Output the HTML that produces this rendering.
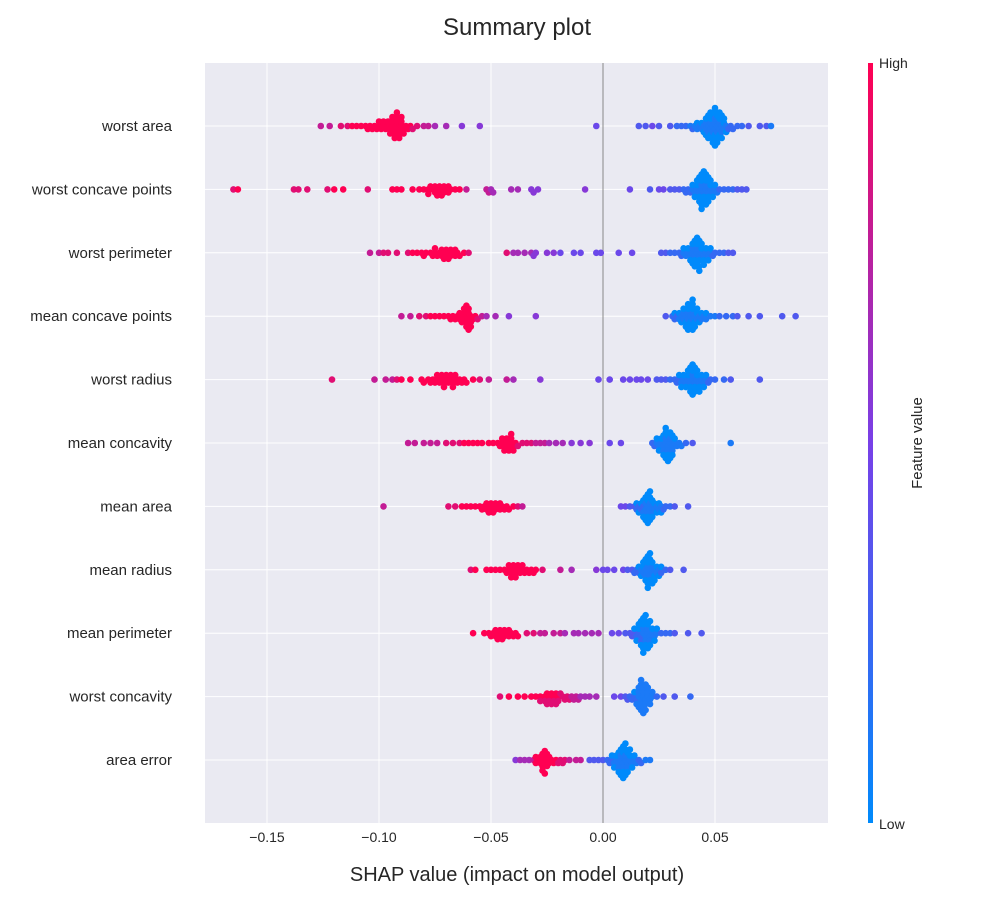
<!DOCTYPE html>
<html><head><meta charset="utf-8"><style>
html,body{margin:0;padding:0;background:#fff;}
svg text{font-family:"Liberation Sans",sans-serif;}
</style></head><body>
<svg id="chart" width="1000" height="900" viewBox="0 0 1000 900" xmlns="http://www.w3.org/2000/svg">
<text x="517" y="35" font-size="24" text-anchor="middle" fill="#262626">Summary plot</text>
<rect x="205" y="63" width="623" height="760" fill="#eaeaf2"/>
<g id="grid"></g>
<g id="ticks"></g>
<g id="ylabels"></g>
<g id="dots"></g>
<text x="517" y="881" font-size="20" text-anchor="middle" fill="#262626">SHAP value (impact on model output)</text>
<defs><linearGradient id="cb" x1="0" y1="1" x2="0" y2="0">
<stop offset="0" stop-color="#008afb"/><stop offset="0.5" stop-color="#7840e8"/><stop offset="1" stop-color="#ff0052"/></linearGradient></defs>
<rect x="868" y="63" width="5" height="760" fill="url(#cb)"/>
<text x="879" y="68" font-size="14" fill="#262626">High</text>
<text x="879" y="829" font-size="14" fill="#262626">Low</text>
<text transform="translate(922,443) rotate(-90)" font-size="15" text-anchor="middle" fill="#262626">Feature value</text>
</svg>
<script>
const features = ["worst area","worst concave points","worst perimeter","mean concave points","worst radius","mean concavity","mean area","mean radius","mean perimeter","worst concavity","area error"];
const xTicks = [-0.15,-0.10,-0.05,0.00,0.05];
const xTickLabels = ["\u22120.15","\u22120.10","\u22120.05","0.00","0.05"];
const shapNeg = [
[-0.126,-0.122,-0.117,-0.114,-0.112,-0.110,-0.108,-0.106,-0.105,-0.104,-0.103,-0.102,-0.101,-0.100,-0.099,-0.098,-0.097,-0.096,-0.095,-0.094,-0.093,-0.093,-0.092,-0.092,-0.091,-0.091,-0.090,-0.090,-0.089,-0.088,-0.087,-0.086,-0.085,-0.083,-0.080,-0.078,-0.075,-0.070,-0.063,-0.055],
[-0.165,-0.163,-0.138,-0.136,-0.132,-0.123,-0.120,-0.116,-0.105,-0.094,-0.092,-0.090,-0.085,-0.082,-0.080,-0.078,-0.077,-0.076,-0.075,-0.074,-0.073,-0.072,-0.071,-0.070,-0.069,-0.068,-0.066,-0.064,-0.061,-0.052,-0.051,-0.050,-0.049,-0.041,-0.038,-0.032,-0.031,-0.029,-0.008],
[-0.104,-0.100,-0.098,-0.096,-0.092,-0.087,-0.085,-0.083,-0.081,-0.080,-0.079,-0.077,-0.076,-0.075,-0.074,-0.073,-0.072,-0.071,-0.070,-0.069,-0.068,-0.067,-0.066,-0.065,-0.064,-0.062,-0.060,-0.043,-0.040,-0.038,-0.035,-0.032,-0.031,-0.030,-0.025,-0.022,-0.019,-0.013,-0.010,-0.003,-0.001],
[-0.090,-0.086,-0.082,-0.079,-0.077,-0.075,-0.073,-0.071,-0.069,-0.068,-0.067,-0.066,-0.065,-0.064,-0.063,-0.062,-0.062,-0.061,-0.061,-0.060,-0.060,-0.059,-0.059,-0.058,-0.057,-0.056,-0.054,-0.052,-0.048,-0.042,-0.030],
[-0.121,-0.102,-0.097,-0.094,-0.092,-0.090,-0.086,-0.081,-0.080,-0.078,-0.077,-0.076,-0.075,-0.074,-0.073,-0.072,-0.071,-0.070,-0.069,-0.068,-0.067,-0.066,-0.065,-0.064,-0.063,-0.062,-0.061,-0.058,-0.055,-0.051,-0.043,-0.040,-0.028],
[-0.087,-0.084,-0.080,-0.077,-0.074,-0.070,-0.067,-0.064,-0.062,-0.060,-0.058,-0.056,-0.054,-0.051,-0.049,-0.047,-0.046,-0.045,-0.044,-0.043,-0.042,-0.041,-0.041,-0.040,-0.039,-0.038,-0.036,-0.034,-0.032,-0.030,-0.028,-0.026,-0.024,-0.021,-0.018,-0.014,-0.010,-0.006,0.003,0.008],
[-0.098,-0.069,-0.066,-0.063,-0.061,-0.059,-0.057,-0.055,-0.054,-0.053,-0.052,-0.051,-0.050,-0.049,-0.048,-0.047,-0.046,-0.045,-0.044,-0.043,-0.042,-0.040,-0.038,-0.036],
[-0.059,-0.057,-0.052,-0.050,-0.048,-0.046,-0.044,-0.043,-0.042,-0.041,-0.040,-0.039,-0.038,-0.037,-0.036,-0.035,-0.034,-0.033,-0.032,-0.031,-0.030,-0.027,-0.019,-0.014],
[-0.058,-0.053,-0.051,-0.050,-0.049,-0.048,-0.047,-0.046,-0.045,-0.044,-0.043,-0.042,-0.041,-0.040,-0.039,-0.038,-0.034,-0.031,-0.028,-0.026,-0.022,-0.019,-0.017,-0.013,-0.011,-0.008,-0.005,-0.002],
[-0.046,-0.042,-0.038,-0.035,-0.032,-0.030,-0.028,-0.026,-0.025,-0.024,-0.023,-0.022,-0.021,-0.020,-0.019,-0.018,-0.017,-0.016,-0.015,-0.014,-0.013,-0.012,-0.011,-0.010,-0.008,-0.006,-0.003],
[-0.039,-0.037,-0.035,-0.033,-0.031,-0.030,-0.029,-0.028,-0.027,-0.027,-0.026,-0.026,-0.025,-0.025,-0.024,-0.023,-0.022,-0.021,-0.020,-0.019,-0.018,-0.017,-0.015,-0.012,-0.010]
];
const featNeg = [
"7788999999999999999999999999999988776655",
"89888899899999999999999999997776666555",
"77888899999999999999999999886666555544444",
"7788999999999999999999999876655",
"8777899999999999999999999999877655",
"7777788899999999999999999888877766655544",
"788999999999999999999987",
"899999999999999999999876",
"9999999999999999887777666666",
"899999999999998888877776666",
"5666799999999999998888777"
];
const shapPos = [
[-0.003,0.016,0.019,0.022,0.025,0.030,0.033,0.035,0.037,0.039,0.040,0.041,0.042,0.043,0.044,0.045,0.046,0.046,0.047,0.047,0.048,0.048,0.049,0.049,0.050,0.050,0.050,0.051,0.051,0.052,0.052,0.053,0.053,0.054,0.055,0.056,0.057,0.058,0.060,0.062,0.065,0.070,0.073,0.075],
[0.012,0.021,0.025,0.027,0.030,0.032,0.034,0.036,0.037,0.038,0.039,0.040,0.041,0.042,0.043,0.044,0.044,0.045,0.046,0.046,0.047,0.048,0.049,0.050,0.051,0.052,0.054,0.056,0.058,0.060,0.062,0.064],
[0.007,0.013,0.026,0.028,0.030,0.032,0.034,0.035,0.036,0.037,0.038,0.039,0.040,0.040,0.041,0.042,0.042,0.043,0.044,0.045,0.046,0.047,0.048,0.049,0.050,0.052,0.054,0.056,0.058],
[0.028,0.031,0.032,0.033,0.034,0.035,0.036,0.036,0.037,0.038,0.038,0.039,0.040,0.040,0.041,0.042,0.043,0.044,0.045,0.046,0.048,0.050,0.052,0.055,0.058,0.060,0.065,0.070,0.080,0.086],
[-0.002,0.003,0.009,0.012,0.015,0.017,0.020,0.024,0.026,0.028,0.030,0.032,0.033,0.034,0.035,0.036,0.037,0.038,0.039,0.040,0.040,0.041,0.042,0.043,0.044,0.045,0.046,0.047,0.048,0.050,0.054,0.057,0.070],
[0.022,0.023,0.024,0.025,0.026,0.027,0.027,0.028,0.028,0.029,0.029,0.030,0.030,0.031,0.031,0.032,0.033,0.034,0.035,0.037,0.040,0.057],
[0.008,0.010,0.012,0.014,0.015,0.016,0.017,0.018,0.018,0.019,0.019,0.020,0.020,0.021,0.021,0.022,0.022,0.023,0.024,0.025,0.026,0.027,0.028,0.030,0.032,0.038],
[-0.003,0.000,0.002,0.005,0.009,0.011,0.013,0.014,0.015,0.016,0.017,0.018,0.019,0.019,0.020,0.020,0.021,0.021,0.022,0.022,0.023,0.024,0.025,0.026,0.028,0.030,0.036],
[0.004,0.007,0.010,0.012,0.013,0.014,0.015,0.016,0.017,0.017,0.018,0.018,0.019,0.019,0.020,0.020,0.021,0.021,0.022,0.023,0.024,0.026,0.028,0.030,0.032,0.038,0.044],
[0.005,0.008,0.010,0.011,0.012,0.013,0.014,0.015,0.016,0.016,0.017,0.017,0.018,0.018,0.019,0.019,0.020,0.021,0.022,0.024,0.027,0.032,0.039],
[-0.006,-0.004,-0.002,0.000,0.002,0.003,0.004,0.005,0.006,0.007,0.007,0.008,0.008,0.009,0.009,0.010,0.010,0.011,0.011,0.012,0.013,0.014,0.015,0.016,0.017,0.019,0.021]
];
const featPos = [
"43343322212111111111111111111111111222223331",
"43443332222111111111111112222333",
"44332222111111111111111222233",
"3222111111111111111111222333331",
"44444443332222111111111111122223",
"2211111111111111111231",
"4433222211111111111112223",
"544443322211111111111112233",
"443333222211111111111222333",
"4433222211111111111233231",
"333322211111111111111112211"
];
const shapCore = [
[-0.100,-0.098,-0.096,-0.095,-0.094,-0.093,-0.092,-0.091,-0.090,-0.089,-0.092,-0.094,0.042,0.044,0.045,0.046,0.047,0.048,0.048,0.049,0.049,0.050,0.050,0.050,0.051,0.051,0.052,0.052,0.053,0.054,0.055,0.046,0.048,0.050,0.052,0.054,0.049,0.051,0.047,0.053],
[-0.078,-0.075,-0.073,-0.071,-0.069,-0.072,-0.074,0.040,0.041,0.042,0.042,0.043,0.043,0.044,0.044,0.044,0.045,0.045,0.045,0.046,0.046,0.046,0.047,0.047,0.048,0.048,0.049,0.050,0.043,0.045,0.047,0.044],
[-0.075,-0.072,-0.070,-0.068,-0.066,-0.069,-0.071,0.036,0.038,0.039,0.040,0.040,0.041,0.041,0.042,0.042,0.042,0.043,0.043,0.043,0.044,0.044,0.045,0.045,0.046,0.047,0.048,0.041,0.043],
[-0.064,-0.062,-0.061,-0.060,-0.059,-0.061,-0.063,-0.060,0.032,0.034,0.035,0.036,0.037,0.037,0.038,0.038,0.039,0.039,0.040,0.040,0.040,0.041,0.041,0.042,0.042,0.043,0.044,0.046,0.038,0.040],
[-0.074,-0.071,-0.068,-0.066,-0.070,-0.072,-0.067,0.034,0.035,0.036,0.037,0.038,0.038,0.039,0.039,0.040,0.040,0.040,0.041,0.041,0.042,0.042,0.043,0.043,0.044,0.045,0.046,0.041,0.039],
[-0.045,-0.043,-0.041,-0.040,-0.042,-0.044,0.024,0.025,0.026,0.027,0.027,0.028,0.028,0.029,0.029,0.029,0.030,0.030,0.031,0.031,0.032,0.028],
[-0.052,-0.050,-0.048,-0.046,-0.049,-0.051,0.015,0.016,0.017,0.018,0.018,0.019,0.019,0.020,0.020,0.020,0.021,0.021,0.021,0.022,0.022,0.023,0.024,0.025,0.026,0.020],
[-0.042,-0.040,-0.038,-0.036,-0.039,-0.041,0.016,0.017,0.018,0.018,0.019,0.019,0.020,0.020,0.020,0.021,0.021,0.021,0.022,0.022,0.023,0.023,0.024,0.025,0.026,0.020],
[-0.048,-0.046,-0.044,-0.042,-0.045,-0.047,0.014,0.015,0.016,0.016,0.017,0.017,0.018,0.018,0.018,0.019,0.019,0.019,0.020,0.020,0.021,0.021,0.022,0.023,0.024,0.018],
[-0.028,-0.026,-0.024,-0.022,-0.020,-0.025,-0.023,-0.021,0.014,0.015,0.016,0.016,0.017,0.017,0.018,0.018,0.018,0.019,0.019,0.020,0.020,0.021,0.022,0.017],
[-0.030,-0.028,-0.027,-0.026,-0.025,-0.024,-0.027,-0.026,0.004,0.005,0.006,0.007,0.007,0.008,0.008,0.009,0.009,0.009,0.010,0.010,0.010,0.011,0.011,0.012,0.012,0.013,0.014,0.009]
];
const featCore = [
"9999999999990",
"99999990",
"99999990",
"999999990",
"99999990",
"9999990",
"9999990",
"9999990",
"9999990",
"8888888801",
"999999990"
];

const NS = "http://www.w3.org/2000/svg";
const X0 = 205, X1 = 828, Y0 = 63, Y1 = 823;
const xScale = v => 603 + v * 2240;
const yScale = i => 126 + i * 63.4;
function mk(tag, attrs, parent){const e=document.createElementNS(NS,tag);for(const k in attrs)e.setAttribute(k,attrs[k]);parent.appendChild(e);return e;}
function lerp(a,b,t){return a+(b-a)*t;}
function color(f){
  const stops=[[0,[0,138,251]],[0.5,[120,64,232]],[1,[255,0,82]]];
  let a=stops[0],b=stops[1];if(f>0.5){a=stops[1];b=stops[2];}
  const t=(f-a[0])/(b[0]-a[0]);
  return "rgb("+[0,1,2].map(k=>Math.round(lerp(a[1][k],b[1][k],t))).join(",")+")";
}
const grid=document.getElementById("grid"), ticks=document.getElementById("ticks"), yl=document.getElementById("ylabels"), dots=document.getElementById("dots");
xTicks.forEach((t,i)=>{
  const gl=mk("line",{x1:xScale(t),x2:xScale(t),y1:Y0,y2:Y1,stroke:"#fff","stroke-width":1},grid);
  
  
  const tx=mk("text",{x:xScale(t),y:842,"font-size":14,"text-anchor":"middle",fill:"#262626"},ticks);
  tx.textContent=xTickLabels[i];
  
  
});
features.forEach((f,i)=>{
  const gl=mk("line",{x1:X0,x2:X1,y1:yScale(i),y2:yScale(i),stroke:"#fff","stroke-width":1},grid);
  
  
  const tx=mk("text",{x:172,y:yScale(i)+5,"font-size":15,"text-anchor":"end",fill:"#262626"},yl);
  tx.textContent=f;
  
  
});
const zl=mk("line",{x1:xScale(0),x2:xScale(0),y1:Y0,y2:Y1,stroke:"#888","stroke-width":1},grid);



features.forEach((f,i)=>{
  const pts=[];
  const addPts=(vals,fs)=>vals.forEach((v,j)=>{const d=fs[Math.min(j,fs.length-1)];pts.push({v:v,f:(+d)/9});});
  addPts(shapNeg[i],featNeg[i]); addPts(shapPos[i],featPos[i]); addPts(shapCore[i],featCore[i]);
  const placed=[];
  const D=3.5;
  pts.map(p=>({p:p,x:xScale(p.v)})).sort((a,b)=>a.x-b.x).forEach(o=>{
    let off=0;
    const cand=[0];for(let s=1;s<16;s++){cand.push(s*1.5,-s*1.5);}
    for(const c of cand){
      off=c;
      if(placed.every(q=>Math.hypot(q.x-o.x,q.y-c)>=D)){break;}
    }
    off=Math.max(-22,Math.min(22,off));
    placed.push({x:o.x,y:off});
    const c=mk("circle",{cx:o.x.toFixed(1),cy:(yScale(i)+off).toFixed(1),r:3.3,fill:color(o.p.f)},dots);
    
    
  });
});
</script>
</body></html>
